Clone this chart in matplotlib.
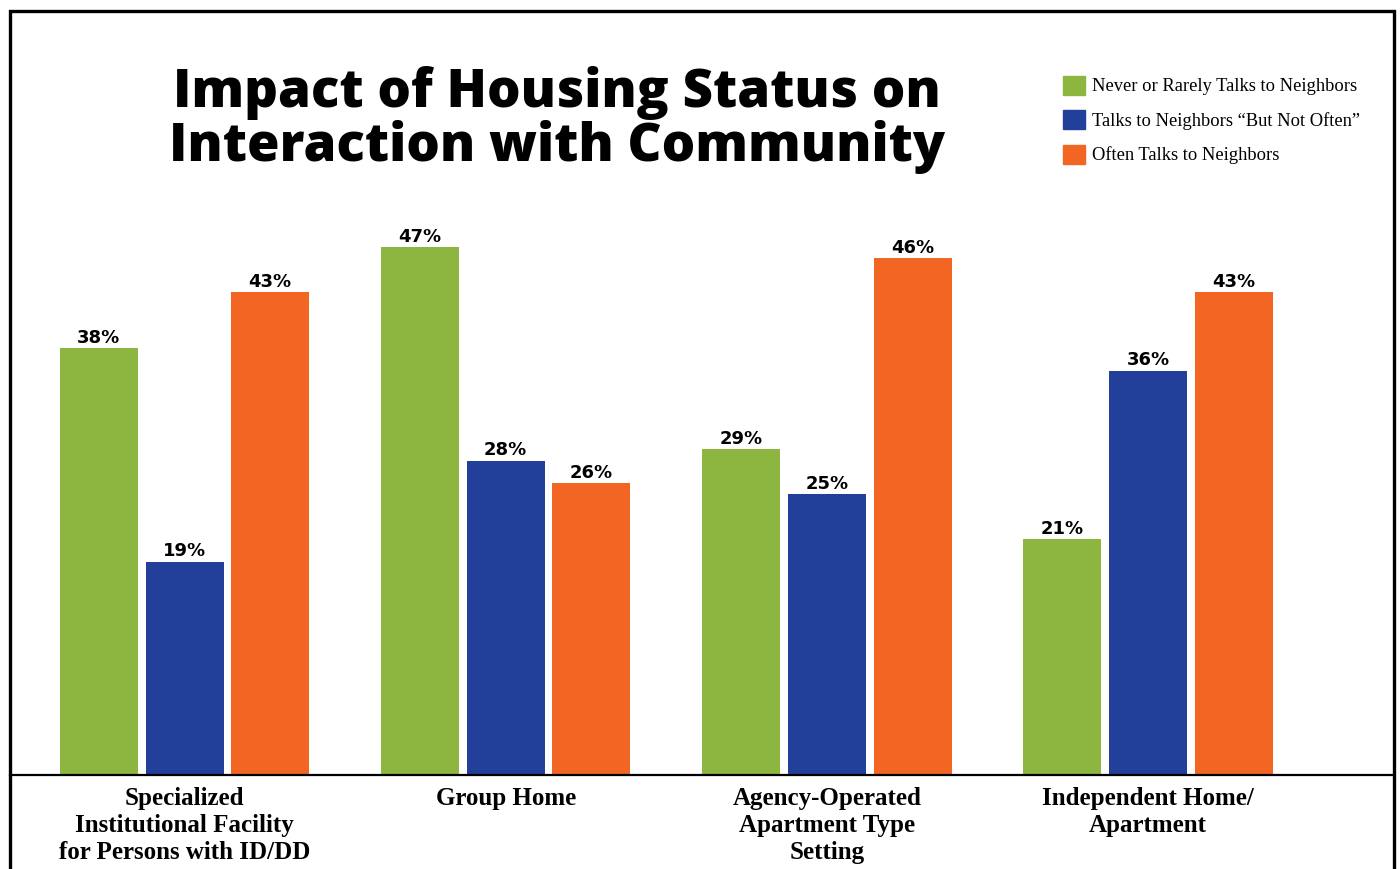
import numpy as np
import matplotlib.pyplot as plt
from matplotlib.patches import Rectangle, Patch

# Data
categories = ['Specialized\nInstitutional Facility\nfor Persons with ID/DD',
              'Group Home',
              'Agency-Operated\nApartment Type\nSetting',
              'Independent Home/\nApartment']
series_names = ['Never or Rarely Talks to Neighbors',
                'Talks to Neighbors \u201cBut Not Often\u201d',
                'Often Talks to Neighbors']
never_rarely = [38, 47, 29, 21]
not_often = [19, 28, 25, 36]
often = [43, 26, 46, 43]
colors = ['#8db640', '#22409a', '#f26522']

W, H = 1400, 869
fig = plt.figure(figsize=(W / 100, H / 100), dpi=100)

# axes placed in pixel terms
ax_left, ax_right = 10, 1393
ax_bottom, ax_top = 775, 200
ax = fig.add_axes([ax_left / W, (H - ax_bottom) / H,
                   (ax_right - ax_left) / W, (ax_bottom - ax_top) / H])

step = 321.2
x0 = (184.5 - ax_left) / step
ax.set_xlim(-x0, -x0 + (ax_right - ax_left) / step)
ax.set_ylim(0, (ax_bottom - ax_top) / 11.23)

x = np.arange(len(categories))
bw = 78 / step
off = 85.7 / step
for i, vals in enumerate([never_rarely, not_often, often]):
    bars = ax.bar(x + (i - 1) * off, vals, width=bw, color=colors[i],
                  label=series_names[i], zorder=2)
    for b, v in zip(bars, vals):
        ax.annotate(f'{v}%', (b.get_x() + b.get_width() / 2, v),
                    xytext=(0, 1), textcoords='offset points',
                    ha='center', va='bottom', fontsize=13,
                    fontweight='bold', family='DejaVu Sans')

for s in ['top', 'right', 'left']:
    ax.spines[s].set_visible(False)
ax.spines['bottom'].set_linewidth(1.6)
ax.set_yticks([])
ax.set_xticks(x)
ax.set_xticklabels(categories, family='Liberation Serif', fontweight='bold',
                   fontsize=18, linespacing=1.2)
ax.tick_params(axis='x', length=0, pad=9)

# title
fig.text(557 / W, 1 - 120 / H,
         'Impact of Housing Status on\nInteraction with Community',
         ha='center', va='center', fontsize=38, fontweight=800,
         family='Open Sans', linespacing=1.0)

# legend
handles = [Patch(color=c) for c in colors]
fig.legend(handles, series_names, loc='upper left',
           bbox_to_anchor=(1046 / W, 1 - 59 / H), frameon=False,
           prop={'family': 'Liberation Serif', 'size': 13.3},
           handlelength=1.2, handleheight=1.2, handletextpad=0.4,
           labelspacing=0.8)

# frame around the figure
fig.patches.append(Rectangle((9.5 / W, -0.05), (1384 / W), 1 - 10.5 / H + 0.05,
                             transform=fig.transFigure, fill=False,
                             edgecolor='black', linewidth=2.4))

fig.savefig('out.png', dpi=100)
